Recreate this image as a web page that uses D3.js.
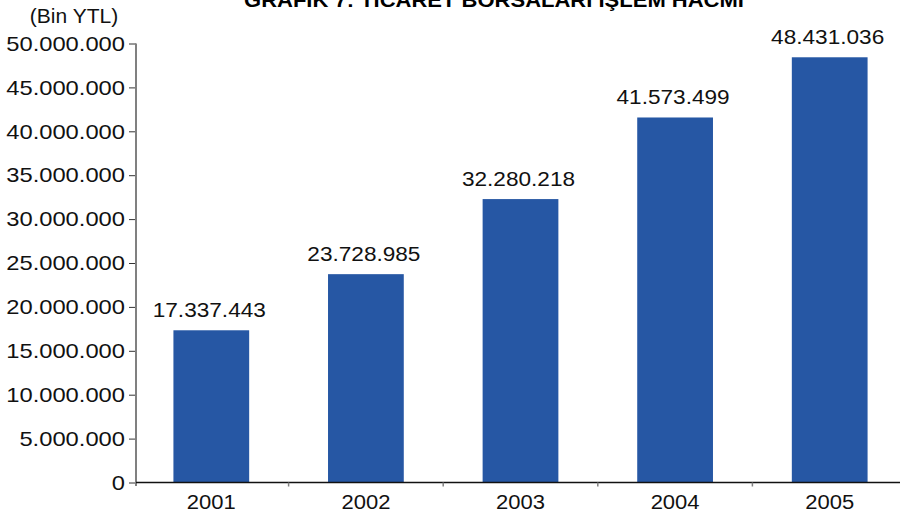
<!DOCTYPE html>
<html><head><meta charset="utf-8">
<script src="https://cdn.jsdelivr.net/npm/d3@7"></script>
<style>
body{margin:0;background:#fff;}
svg{display:block;}
text{font-family:"Liberation Sans",Arial,sans-serif;fill:#111;}
</style></head>
<body><svg id="c" width="900" height="515"></svg>
<script>
const title = "GRAFİK 7: TİCARET BORSALARI İŞLEM HACMİ";
const unitLabel = "(Bin YTL)";
const years = ["2001","2002","2003","2004","2005"];
const values = [17337443, 23728985, 32280218, 41573499, 48431036];
const valueLabels = ["17.337.443","23.728.985","32.280.218","41.573.499","48.431.036"];
const yTicks = [0,5000000,10000000,15000000,20000000,25000000,30000000,35000000,40000000,45000000,50000000];
const yTickLabels = ["0","5.000.000","10.000.000","15.000.000","20.000.000","25.000.000","30.000.000","35.000.000","40.000.000","45.000.000","50.000.000"];

function stretch(sel, k){
  sel.each(function(){
    const w = this.getComputedTextLength();
    d3.select(this).attr("textLength", w*k).attr("lengthAdjust","spacingAndGlyphs");
  });
}

const svg = d3.select("#c");
const y = d3.scaleLinear().domain([0,50000000]).range([482.5,43.5]);
const x = d3.scaleBand().domain(years).range([134,907]).paddingInner(0.51).paddingOuter(0.255);

// title (clipped at top as in the reference)
const t = svg.append("text").attr("x",494).attr("y",7).attr("text-anchor","middle")
  .style("font-weight","bold").style("font-size","20px").style("fill","#000").text(title);
stretch(t, 1.1);
const u = svg.append("text").attr("x",74).attr("y",23).attr("text-anchor","middle")
  .style("font-family","'Liberation Sans Narrow','Liberation Sans',sans-serif").style("font-size","21px").text(unitLabel);

// bars
svg.selectAll("rect.bar").data(values).enter().append("rect").attr("class","bar")
  .attr("x",(d,i)=>x(years[i])).attr("width",x.bandwidth())
  .attr("y",d=>y(d)).attr("height",d=>y(0)-y(d)).attr("fill","#2657a4");

const vl = svg.selectAll("text.val").data(values).enter().append("text").attr("class","val")
  .attr("x",(d,i)=>x(years[i])+x.bandwidth()/2 - 2).attr("y",d=>y(d)-13)
  .attr("text-anchor","middle").style("font-size","20px").text((d,i)=>valueLabels[i]);
stretch(vl, 1.13);

// y axis
const yAxis = d3.axisLeft(y).tickValues(yTicks).tickFormat((d,i)=>yTickLabels[i]).tickSize(7).tickPadding(4);
const gy = svg.append("g").attr("transform","translate(136,0)").call(yAxis);
gy.select(".domain").remove();
gy.selectAll(".tick line").attr("stroke","#333");
const yl = gy.selectAll(".tick text").style("font-size","21px").style("font-family","'Liberation Sans',Arial,sans-serif").attr("fill","#111");
stretch(yl, 1.13);
svg.append("line").attr("x1",136).attr("x2",136).attr("y1",43.5).attr("y2",486).attr("stroke","#808080").attr("stroke-width",2);

// x axis
svg.append("line").attr("x1",136).attr("x2",900).attr("y1",y(0)).attr("y2",y(0)).attr("stroke","#111").attr("stroke-width",1.5);
const step = x.step();
const bounds = years.slice(1).map(d=>x(d)-step*x.paddingInner()/2);
svg.selectAll("line.xt").data(bounds).enter().append("line").attr("class","xt")
  .attr("x1",d=>d).attr("x2",d=>d).attr("y1",y(0)).attr("y2",y(0)+4).attr("stroke","#808080").attr("stroke-width",1.5);
const yr = svg.selectAll("text.yr").data(years).enter().append("text").attr("class","yr")
  .attr("x",d=>x(d)+x.bandwidth()/2).attr("y",509).attr("text-anchor","middle")
  .style("font-size","20px").text(d=>d);
stretch(yr, 1.1);
</script></body></html>
